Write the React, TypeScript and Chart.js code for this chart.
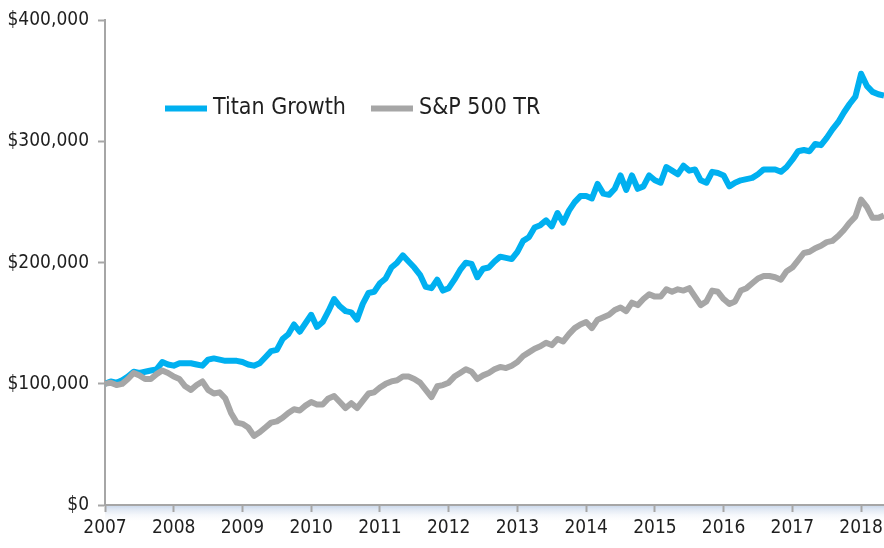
import React, { useEffect, useRef } from "react";
import { Chart, registerables } from "chart.js";

Chart.register(...registerables);

// Monthly growth of $100,000, January 2007 to May 2018 (values in $ thousands)
const START_YEAR = 2007;
const yearTicks = [2007, 2008, 2009, 2010, 2011, 2012, 2013, 2014, 2015, 2016, 2017, 2018];
const dollarTicks = [0, 100, 200, 300, 400];
const seriesNames = ["Titan Growth", "S&P 500 TR"];
const seriesColors = ["#00B0F0", "#A6A6A6"];

const titanGrowth = [
  100, 102, 101, 103, 106, 110, 109, 110, 111, 112, 118, 116,
  115, 117, 117, 117, 116, 115, 120, 121, 120, 119, 119, 119,
  118, 116, 115, 117, 122, 127, 128, 137, 141, 149, 143, 150,
  157, 147, 151, 160, 170, 164, 160, 159, 153, 166, 175, 176,
  183, 187, 196, 200, 206, 201, 196, 190, 180, 179, 186, 177,
  179, 186, 194, 200, 199, 188, 195, 196, 201, 205, 204, 203,
  209, 218, 221, 229, 231, 235, 230, 241, 233, 243, 250, 255,
  255, 253, 265, 257, 256, 261, 272, 260, 272, 261, 263, 272,
  268, 266, 279, 276, 273, 280, 276, 277, 268, 266, 275, 274,
  272, 263, 266, 268, 269, 270, 273, 277, 277, 277, 275, 279,
  285, 292, 293, 292, 298, 297, 303, 310, 316, 324, 331, 337,
  356, 346, 341, 339, 338,
];

const sp500TR = [
  100, 101, 99, 100, 104, 109, 107, 104, 104, 108, 111, 109,
  106, 104, 98, 95, 99, 102, 95, 92, 93, 88, 76, 68,
  67, 64, 57, 60, 64, 68, 69, 72, 76, 79, 78, 82,
  85, 83, 83, 88, 90, 85, 80, 84, 80, 86, 92, 93,
  97, 100, 102, 103, 106, 106, 104, 101, 95, 89, 98, 99,
  101, 106, 109, 112, 110, 104, 107, 109, 112, 114, 113, 115,
  118, 123, 126, 129, 131, 134, 132, 137, 135, 141, 146, 149,
  151, 146, 153, 155, 157, 161, 163, 160, 167, 165, 170, 174,
  172, 172, 178, 176, 178, 177, 179, 172, 165, 168, 177, 176,
  170, 166, 168, 177, 179, 183, 187, 189, 189, 188, 186, 193,
  196, 202, 208, 209, 212, 214, 217, 218, 222, 227, 233, 238,
  252, 246, 237, 237, 239,
];

const FONT = "'DejaVu Sans Condensed', 'DejaVu Sans', sans-serif";
const TEXT_COLOR = "#1f1f1f";
const AXIS_COLOR = "#a6a6a6";

const toPoints = (vals: number[]) => vals.map((v, i) => ({ x: START_YEAR + i / 12, y: v }));

const axisShade = {
  id: "axisShade",
  beforeDraw(chart: any) {
    const { ctx, chartArea } = chart;
    const h = 18;
    const g = ctx.createLinearGradient(0, chartArea.bottom, 0, chartArea.bottom + h);
    g.addColorStop(0, "rgba(200,214,234,1)");
    g.addColorStop(1, "rgba(255,255,255,0)");
    ctx.save();
    ctx.fillStyle = g;
    ctx.fillRect(chartArea.left, chartArea.bottom, chartArea.right - chartArea.left, h);
    ctx.restore();
  },
};

const innerLegend = {
  id: "innerLegend",
  afterDraw(chart: any) {
    const { ctx, chartArea } = chart;
    let x = chartArea.left + 60;
    const y = chartArea.top + 88;
    ctx.save();
    ctx.font = `23px ${FONT}`;
    ctx.textBaseline = "middle";
    ctx.textAlign = "left";
    chart.data.datasets.forEach((ds: any) => {
      ctx.strokeStyle = ds.borderColor;
      ctx.lineWidth = 6;
      ctx.lineCap = "butt";
      ctx.beginPath();
      ctx.moveTo(x, y);
      ctx.lineTo(x + 42, y);
      ctx.stroke();
      ctx.fillStyle = TEXT_COLOR;
      ctx.fillText(ds.label, x + 48, y);
      x += 48 + ctx.measureText(ds.label).width + 25;
    });
    ctx.restore();
  },
};

export default function App() {
  const ref = useRef<HTMLCanvasElement | null>(null);

  useEffect(() => {
    document.body.style.margin = "0";
    if (!ref.current) return;
    const last = START_YEAR + (titanGrowth.length - 1) / 12;
    const chart = new Chart(ref.current, {
      type: "line",
      data: {
        datasets: [
          {
            label: seriesNames[0],
            data: toPoints(titanGrowth),
            borderColor: seriesColors[0],
            backgroundColor: seriesColors[0],
            borderWidth: 6,
            pointRadius: 0,
            tension: 0,
            borderJoinStyle: "round",
            order: 1,
          },
          {
            label: seriesNames[1],
            data: toPoints(sp500TR),
            borderColor: seriesColors[1],
            backgroundColor: seriesColors[1],
            borderWidth: 6,
            pointRadius: 0,
            tension: 0,
            borderJoinStyle: "round",
            order: 0,
          },
        ],
      },
      options: {
        responsive: false,
        animation: false,
        layout: { padding: { top: 20, right: 0, bottom: 0, left: 0 } },
        plugins: {
          legend: { display: false },
          tooltip: { enabled: false },
        },
        scales: {
          x: {
            type: "linear",
            min: START_YEAR,
            max: last,
            afterBuildTicks: (scale: any) => {
              scale.ticks = yearTicks.map((v) => ({ value: v }));
            },
            afterFit: (scale: any) => {
              scale.height = 43;
              scale.paddingLeft = 0;
              scale.paddingRight = 0;
            },
            ticks: {
              autoSkip: false,
              maxRotation: 0,
              padding: 5,
              color: TEXT_COLOR,
              font: { family: FONT, size: 19 },
              callback: (v: any) => String(v),
            },
            grid: {
              display: true,
              drawOnChartArea: false,
              drawTicks: true,
              tickLength: 7,
              tickColor: AXIS_COLOR,
              tickWidth: 2,
            },
            border: { display: true, color: AXIS_COLOR, width: 2 },
          },
          y: {
            min: 0,
            max: 400,
            afterBuildTicks: (scale: any) => {
              scale.ticks = dollarTicks.map((v) => ({ value: v }));
            },
            afterFit: (scale: any) => {
              scale.width = 105;
            },
            ticks: {
              padding: 9,
              color: TEXT_COLOR,
              font: { family: FONT, size: 19 },
              callback: (v: any) => "$" + (Number(v) * 1000).toLocaleString("en-US"),
            },
            grid: {
              display: true,
              drawOnChartArea: false,
              drawTicks: true,
              tickLength: 7,
              tickColor: AXIS_COLOR,
              tickWidth: 2,
            },
            border: { display: true, color: AXIS_COLOR, width: 2 },
          },
        },
      },
      plugins: [axisShade, innerLegend],
    } as any);
    return () => chart.destroy();
  }, []);

  return (
    <div style={{ width: 884, height: 548 }}>
      <canvas ref={ref} width={884} height={548} style={{ display: "block" }} />
    </div>
  );
}
